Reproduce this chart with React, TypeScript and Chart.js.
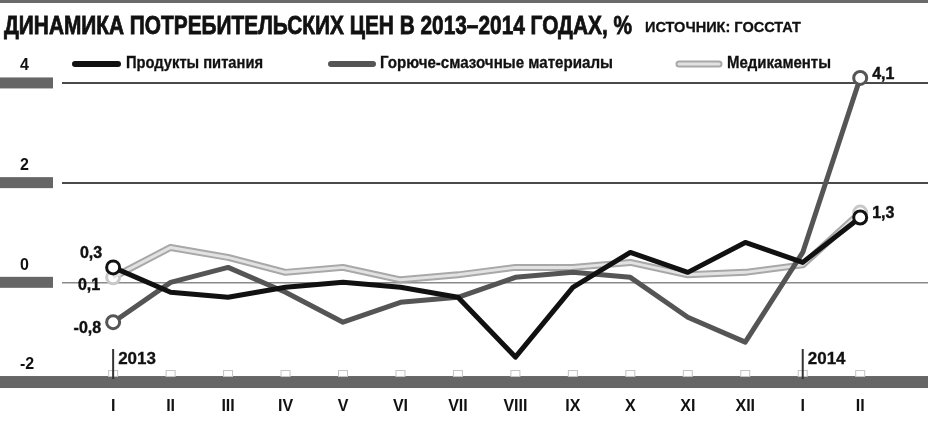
import React, { useEffect, useRef } from 'react';
import { Chart, registerables } from 'chart.js';

Chart.register(...registerables);

// ---------- data ----------
const months = ['I', 'II', 'III', 'IV', 'V', 'VI', 'VII', 'VIII', 'IX', 'X', 'XI', 'XII', 'I', 'II'];
const yearMarkIndex = [0, 12];
const yearMarkText = ['2013', '2014'];
const yTicks = [-2, 0, 2, 4];

const food = [0.3, -0.2, -0.3, -0.1, 0.0, -0.1, -0.3, -1.5, -0.1, 0.6, 0.2, 0.8, 0.4, 1.3];
const fuel = [-0.8, 0.0, 0.3, -0.2, -0.8, -0.4, -0.3, 0.1, 0.2, 0.1, -0.7, -1.2, 0.6, 4.1];
const meds = [0.1, 0.7, 0.5, 0.2, 0.3, 0.05, 0.15, 0.3, 0.3, 0.4, 0.15, 0.2, 0.35, 1.4];

const seriesNames = ['Продукты питания', 'Горюче-смазочные материалы', 'Медикаменты'];
const titleText = 'ДИНАМИКА ПОТРЕБИТЕЛЬСКИХ ЦЕН В 2013–2014 ГОДАХ, %';
const sourceText = 'ИСТОЧНИК: ГОССТАТ';

// ---------- style ----------
const FONT = '"Liberation Sans Narrow", "Liberation Sans", Arial, sans-serif';
const C_FOOD = '#111111';
const C_FUEL = '#555555';
const C_MED_OUT = '#a8a8a8';
const C_MED_IN = '#e2e2e2';
const C_BAND = '#666666';

const fmt = (v: number) => v.toFixed(1).replace('.', ',');
const toXY = (arr: number[]) => arr.map((y, x) => ({ x, y }));
const endRadius = (r: number) => (ctx: any) =>
  ctx.dataIndex === 0 || ctx.dataIndex === months.length - 1 ? r : 0;

const boldText = (ctx: any, text: string, x: number, y: number, maxW?: number, w = 0.5) => {
  ctx.lineWidth = w;
  ctx.strokeStyle = ctx.fillStyle;
  if (maxW) {
    ctx.fillText(text, x, y, maxW);
    ctx.strokeText(text, x, y, maxW);
  } else {
    ctx.fillText(text, x, y);
    ctx.strokeText(text, x, y);
  }
};

const decorPlugin = {
  id: 'decor',
  beforeDraw(chart: any) {
    const { ctx, width, scales } = chart;
    const ys = scales.y;
    ctx.save();
    ctx.fillStyle = '#ffffff';
    ctx.fillRect(0, 0, width, chart.height);
    ctx.fillStyle = '#6a6a6a';
    ctx.fillRect(0, 0, width, 3);
    ctx.fillStyle = '#111';
    ctx.textBaseline = 'alphabetic';
    ctx.textAlign = 'left';
    ctx.font = `bold 26px ${FONT}`;
    boldText(ctx, titleText, 4, 34, 628, 0.8);
    ctx.font = `bold 15px ${FONT}`;
    boldText(ctx, sourceText, 645, 32, 156, 0.3);
    ctx.fillStyle = C_BAND;
    yTicks.forEach((v) => {
      const y = ys.getPixelForValue(v);
      if (v === yTicks[0]) ctx.fillRect(0, y - 6, width, 12);
      else ctx.fillRect(0, y - 5.5, 53, 11);
    });
    ctx.restore();
  },
  afterDatasetsDraw(chart: any) {
    const { ctx, scales } = chart;
    const xs = scales.x;
    const ys = scales.y;
    const base = ys.getPixelForValue(yTicks[0]);
    ctx.save();
    ctx.strokeStyle = '#c4c4c4';
    ctx.lineWidth = 1;
    months.forEach((_, i) => {
      const x = xs.getPixelForValue(i);
      ctx.strokeRect(x - 4.5, base - 11.5, 9, 6);
    });
    ctx.fillStyle = '#111';
    ctx.font = `bold 17px ${FONT}`;
    ctx.textBaseline = 'middle';
    ctx.textAlign = 'left';
    yearMarkIndex.forEach((idx, k) => {
      const x = xs.getPixelForValue(idx);
      ctx.strokeStyle = '#333';
      ctx.lineWidth = 2;
      ctx.beginPath();
      ctx.moveTo(x, base - 33);
      ctx.lineTo(x, base - 3);
      ctx.stroke();
      boldText(ctx, yearMarkText[k], x + 5, base - 23, undefined, 0.3);
    });
    ctx.font = `bold 16px ${FONT}`;
    const last = months.length - 1;
    const pFood0 = chart.getDatasetMeta(0).data[0];
    const pFuel0 = chart.getDatasetMeta(1).data[0];
    const pMed0 = chart.getDatasetMeta(3).data[0];
    ctx.textAlign = 'right';
    boldText(ctx, fmt(food[0]), pFood0.x - 11, pFood0.y - 14, undefined, 0.4);
    boldText(ctx, fmt(meds[0]), pMed0.x - 13, pMed0.y + 8, undefined, 0.4);
    boldText(ctx, fmt(fuel[0]), pFuel0.x - 12, pFuel0.y + 6, undefined, 0.4);
    const pFoodL = chart.getDatasetMeta(0).data[last];
    const pFuelL = chart.getDatasetMeta(1).data[last];
    ctx.textAlign = 'left';
    boldText(ctx, fmt(fuel[last]), pFuelL.x + 12, pFuelL.y - 3, undefined, 0.4);
    boldText(ctx, fmt(food[last]), pFoodL.x + 12, pFoodL.y - 4, undefined, 0.4);
    ctx.restore();
  },
  afterDraw(chart: any) {
    const { ctx } = chart;
    ctx.save();
    const ly = 64;
    ctx.lineCap = 'round';
    ctx.strokeStyle = C_FOOD;
    ctx.lineWidth = 6;
    ctx.beginPath(); ctx.moveTo(75, ly); ctx.lineTo(118, ly); ctx.stroke();
    ctx.strokeStyle = C_FUEL;
    ctx.beginPath(); ctx.moveTo(331, ly); ctx.lineTo(373, ly); ctx.stroke();
    ctx.strokeStyle = C_MED_OUT;
    ctx.lineWidth = 7;
    ctx.beginPath(); ctx.moveTo(679, ly); ctx.lineTo(719, ly); ctx.stroke();
    ctx.strokeStyle = C_MED_IN;
    ctx.lineWidth = 3;
    ctx.beginPath(); ctx.moveTo(679, ly); ctx.lineTo(719, ly); ctx.stroke();
    ctx.fillStyle = '#111';
    ctx.font = `bold 16px ${FONT}`;
    ctx.textBaseline = 'middle';
    ctx.textAlign = 'left';
    boldText(ctx, seriesNames[0], 126, ly, 137, 0.3);
    boldText(ctx, seriesNames[1], 380, ly, 233, 0.3);
    boldText(ctx, seriesNames[2], 727, ly, 104, 0.3);
    ctx.restore();
  },
};

export default function App() {
  const canvasRef = useRef<HTMLCanvasElement | null>(null);

  useEffect(() => {
    const canvas = canvasRef.current;
    if (!canvas) return;
    const chart = new Chart(canvas, {
      type: 'line',
      data: {
        datasets: [
          {
            label: seriesNames[0],
            data: toXY(food),
            borderColor: C_FOOD,
            borderWidth: 5,
            pointRadius: endRadius(6.5),
            pointBorderWidth: 3,
            pointBorderColor: C_FOOD,
            pointBackgroundColor: '#ffffff',
            borderJoinStyle: 'round',
            tension: 0,
          },
          {
            label: seriesNames[1],
            data: toXY(fuel),
            borderColor: C_FUEL,
            borderWidth: 5,
            pointRadius: endRadius(6.5),
            pointBorderWidth: 3,
            pointBorderColor: C_FUEL,
            pointBackgroundColor: '#ffffff',
            borderJoinStyle: 'round',
            tension: 0,
          },
          {
            label: seriesNames[2] + ' inner',
            data: toXY(meds),
            borderColor: C_MED_IN,
            borderWidth: 3,
            pointRadius: 0,
            borderJoinStyle: 'round',
            tension: 0,
          },
          {
            label: seriesNames[2],
            data: toXY(meds),
            borderColor: C_MED_OUT,
            borderWidth: 7,
            pointRadius: endRadius(6.5),
            pointBorderWidth: 3,
            pointBorderColor: '#c8c8c8',
            pointBackgroundColor: '#ffffff',
            borderJoinStyle: 'round',
            tension: 0,
          },
        ],
      } as any,
      options: {
        animation: false,
        responsive: false,
        events: [],
        layout: { autoPadding: false, padding: { left: 20, right: 0, top: 63, bottom: 0 } },
        plugins: { legend: { display: false }, tooltip: { enabled: false }, title: { display: false } },
        scales: {
          x: {
            type: 'linear',
            min: -0.89,
            max: 14.18,
            afterBuildTicks: (scale: any) => {
              scale.ticks = months.map((_, i) => ({ value: i }));
            },
            afterFit: (scale: any) => {
              scale.height = 33;
              scale.paddingLeft = 0;
              scale.paddingRight = 0;
            },
            grid: { display: false, drawTicks: false },
            border: { display: false },
            ticks: {
              autoSkip: false,
              maxRotation: 0,
              padding: 5,
              color: '#111',
              font: { family: FONT, size: 16, weight: 'bold' },
              callback: (v: any) => months[v as number] ?? '',
            },
          },
          y: {
            type: 'linear',
            min: -2.2,
            max: 4.4,
            afterBuildTicks: (scale: any) => {
              scale.ticks = yTicks.map((v) => ({ value: v }));
            },
            afterFit: (scale: any) => {
              scale.width = 42;
              scale.paddingTop = 0;
              scale.paddingBottom = 0;
            },
            grid: {
              drawTicks: false,
              color: (ctx: any) =>
                ctx.tick && ctx.tick.value === yTicks[0]
                  ? 'rgba(0,0,0,0)'
                  : ctx.tick && ctx.tick.value === 0
                  ? '#8a8a8a'
                  : '#4a4a4a',
              lineWidth: (ctx: any) => (ctx.tick && ctx.tick.value === 0 ? 1.5 : 2),
            },
            border: { display: false },
            ticks: {
              crossAlign: 'far',
              padding: 0,
              labelOffset: -17,
              color: '#111',
              font: { family: FONT, size: 16, weight: 'bold' },
              callback: (v: any) => String(v),
            },
          },
        },
      } as any,
      plugins: [decorPlugin],
    });
    return () => chart.destroy();
  }, []);

  return (
    <div style={{ position: 'absolute', left: 0, top: 0, width: 928, height: 425, background: '#fff' }}>
      <canvas ref={canvasRef} width={928} height={425} />
    </div>
  );
}
